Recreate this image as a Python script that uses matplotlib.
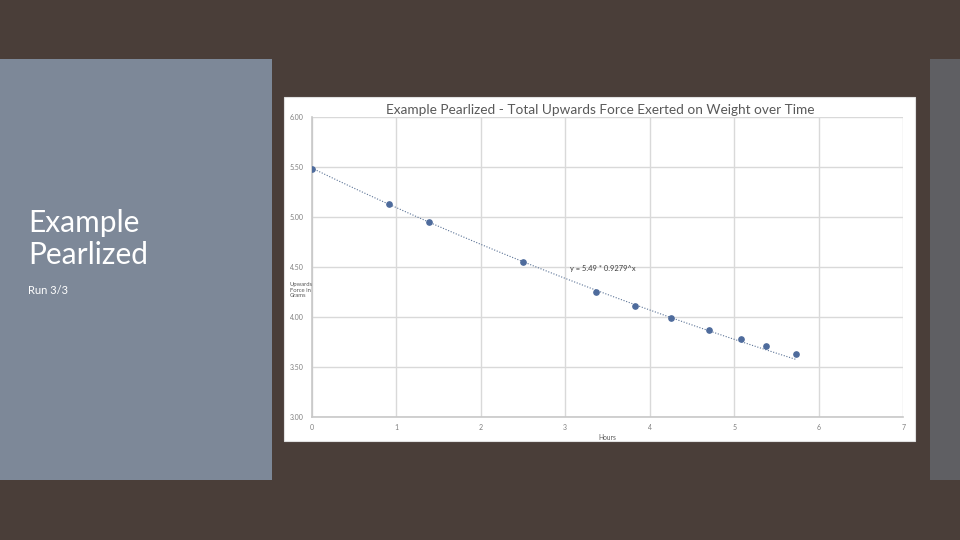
import matplotlib
matplotlib.use("Agg")
import matplotlib.pyplot as plt
import numpy as np
from matplotlib.patches import Rectangle

# ---- data ----
hours = [0.0, 0.92, 1.39, 2.50, 3.36, 3.83, 4.25, 4.70, 5.08, 5.37, 5.73]
force = [5.48, 5.13, 4.95, 4.55, 4.25, 4.11, 3.99, 3.87, 3.78, 3.71, 3.63]
fit_a = 5.49
fit_b = 0.9279
x_ticks = [0, 1, 2, 3, 4, 5, 6, 7]
y_ticks = [3.00, 3.50, 4.00, 4.50, 5.00, 5.50, 6.00]
title = "Example Pearlized - Total Upwards Force Exerted on Weight over Time"
equation = "y = 5.49 * 0.9279^x"
slide_title = ["Example", "Pearlized"]
slide_sub = "Run 3/3"

W, H = 960, 540
fig = plt.figure(figsize=(9.6, 5.4), dpi=100)
fig.patch.set_facecolor("#4a3e39")

def fx(px):
    return px / W

def fy(py):
    return 1 - py / H

# left panel
fig.add_artist(Rectangle((fx(0), fy(480)), fx(272), (480 - 59) / H,
                         transform=fig.transFigure, facecolor="#7d8898",
                         edgecolor="none", zorder=0))
# right strip
fig.add_artist(Rectangle((fx(930), fy(480)), fx(30), (480 - 59) / H,
                         transform=fig.transFigure, facecolor="#5f5f63",
                         edgecolor="none", zorder=0))
# white chart box
fig.add_artist(Rectangle((fx(284), fy(441)), (915 - 284) / W, (441 - 97) / H,
                         transform=fig.transFigure, facecolor="white",
                         edgecolor="#e0e0e0", linewidth=0.8, zorder=0))

# slide texts
fig.text(fx(28), fy(232), slide_title[0], color="white", fontsize=21.5,
         family="Lato", ha="left", va="baseline")
fig.text(fx(28), fy(264), slide_title[1], color="white", fontsize=21.5,
         family="Lato", ha="left", va="baseline")
fig.text(fx(28), fy(294), slide_sub, color="white", fontsize=8,
         family="Lato", ha="left", va="baseline")

# axes
left, right = 311.7, 903.3
top, bottom = 117.0, 417.0
ax = fig.add_axes([fx(left), fy(bottom), (right - left) / W, (bottom - top) / H])
ax.set_facecolor("white")
ax.set_xlim(0, 7)
ax.set_ylim(3, 6)
ax.set_xticks(x_ticks)
ax.set_yticks(y_ticks)
ax.set_xticklabels([str(t) for t in x_ticks], family="Lato")
ax.set_yticklabels([f"{t:.2f}" for t in y_ticks], family="Lato")
ax.tick_params(axis="x", length=0, labelsize=5, labelcolor="#7f7f7f", pad=5)
ax.tick_params(axis="y", length=0, labelsize=5, labelcolor="#7f7f7f", pad=6)
ax.grid(True, color="#d9d9d9", linewidth=1)
ax.set_axisbelow(True)
for s in ax.spines.values():
    s.set_visible(False)
ax.spines["left"].set_visible(True)
ax.spines["bottom"].set_visible(True)
ax.spines["left"].set_color("#c8c8c8")
ax.spines["bottom"].set_color("#c8c8c8")
ax.spines["left"].set_linewidth(1.2)
ax.spines["bottom"].set_linewidth(1.2)

# trendline from displayed fit
xt = np.linspace(min(hours), max(hours), 200)
ax.plot(xt, fit_a * fit_b ** xt, linestyle=(0, (1, 1.5)), color="#5b7396",
        linewidth=0.8, zorder=2)
ax.plot(hours, force, linestyle="none", marker="o", markersize=3.8,
        color="#4e6b9c", zorder=3)

ax.text(3.06, 4.48, equation, fontsize=5.4, color="#404040", ha="left",
        va="center", family="Lato")

fig.text(fx(600), fy(110), title, fontsize=9.8, color="#595959",
         ha="center", va="center", family="Lato")
fig.text(fx(290), fy(290), "Upwards\nForce in\nGrams", fontsize=4.2,
         color="#595959", ha="left", va="center", linespacing=1.1,
         family="Lato")
fig.text(fx(607), fy(437), "Hours", fontsize=4.8, color="#595959",
         ha="center", va="center", family="Lato")

fig.savefig("out.png", dpi=100, facecolor=fig.get_facecolor())
